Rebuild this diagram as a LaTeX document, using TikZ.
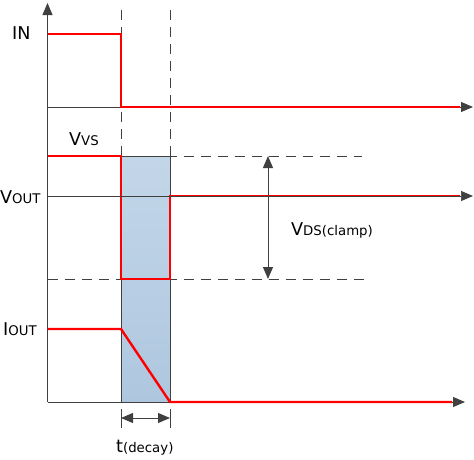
\documentclass[tikz,border=0pt]{standalone}
\usepackage{fontspec}
\setmainfont{DejaVu Sans}
\usetikzlibrary{arrows.meta}
\definecolor{axisgray}{HTML}{404040}
\definecolor{sigred}{HTML}{FF0000}
\definecolor{shtop}{HTML}{C3D6E9}
\definecolor{shbot}{HTML}{AEC7DF}
\newcommand{\lbig}[1]{{\fontsize{17.6}{17.6}\selectfont #1}}
\newcommand{\lsml}[1]{{\fontsize{13.3}{13.3}\selectfont #1}}
\tikzset{
  axisline/.style={draw=axisgray, line width=0.9pt},
  axisarrow/.style={axisline, -{Triangle[length=12pt,width=10pt]}},
  guide/.style={draw=axisgray, line width=0.8pt, dash pattern=on 10pt off 7pt},
  signal/.style={draw=sigred, line width=2.4pt, line join=miter},
  dimarrow/.style={draw=axisgray, line width=0.9pt, {Triangle[length=12pt,width=10pt]}-{Triangle[length=12pt,width=10pt]}},
  lbl/.style={anchor=base west, inner sep=0pt, text=black},
}
\begin{document}
\begin{tikzpicture}[x=1pt,y=-1pt]
\useasboundingbox (0,0) rectangle (474,459);
% coordinates
\coordinate (o) at (47.5,402);
\coordinate (ytop) at (47.5,3);
\coordinate (inL) at (47.5,107);
\coordinate (inR) at (473,107);
\coordinate (voL) at (47.5,196);
\coordinate (voR) at (473,196);
\coordinate (ioR) at (465,402);
\coordinate (t1top) at (121,10);
\coordinate (t2top) at (170,10);
\coordinate (r1) at (121,156);
\coordinate (r2) at (170,402);
% shaded decay window
\shade[top color=shtop, bottom color=shbot] (r1) rectangle (r2);
\draw[axisline] (r1) rectangle (r2);
% guides
\draw[guide] (t1top) -- (121,156);
\draw[guide] (t2top) -- (170,156);
\draw[guide] (47.5,156) -- (362,156);
\draw[guide] (47.5,279) -- (368,279);
% axes
\draw[axisarrow] (o) -- (ytop);
\draw[axisarrow] (inL) -- (inR);
\draw[axisarrow] (o) -- (ioR);
% signals
\draw[signal] (47.5,34) -- (121,34) -- (121,107) -- (460,107);
\draw[signal] (47.5,156) -- (121,156) -- (121,279) -- (170,279) -- (170,196) -- (460,196);
\draw[signal] (47.5,329) -- (121,329) -- (170,402) -- (452,402);
\draw[axisarrow, line width=0.7pt] (voL) -- (voR);
% dimension arrows
\coordinate (vd1) at (268,156);
\coordinate (vd2) at (268,279);
\draw[dimarrow] (vd1) -- (vd2);
\coordinate (td1) at (121,418);
\coordinate (td2) at (170,418);
\draw[dimarrow] (td1) -- (td2);
\draw[axisline] (121,409) -- (121,428);
\draw[axisline] (170,409) -- (170,428);
% labels
\node[lbl] (lin) at (12,39.5) {\lbig{IN}};
\node[lbl] (lvs) at (69,145.5) {\lbig{V}\lsml{VS}};
\node[lbl] (lvout) at (0,203) {\lbig{V}\lsml{OUT}};
\node[lbl] (liout) at (3,335) {\lbig{I}\lsml{OUT}};
\node[lbl] (lvds) at (291,235) {\lbig{V}\lsml{DS(clamp)}};
\node[lbl] (ltd) at (116,452) {\lbig{t}\lsml{(decay)}};
\end{tikzpicture}
\end{document}
